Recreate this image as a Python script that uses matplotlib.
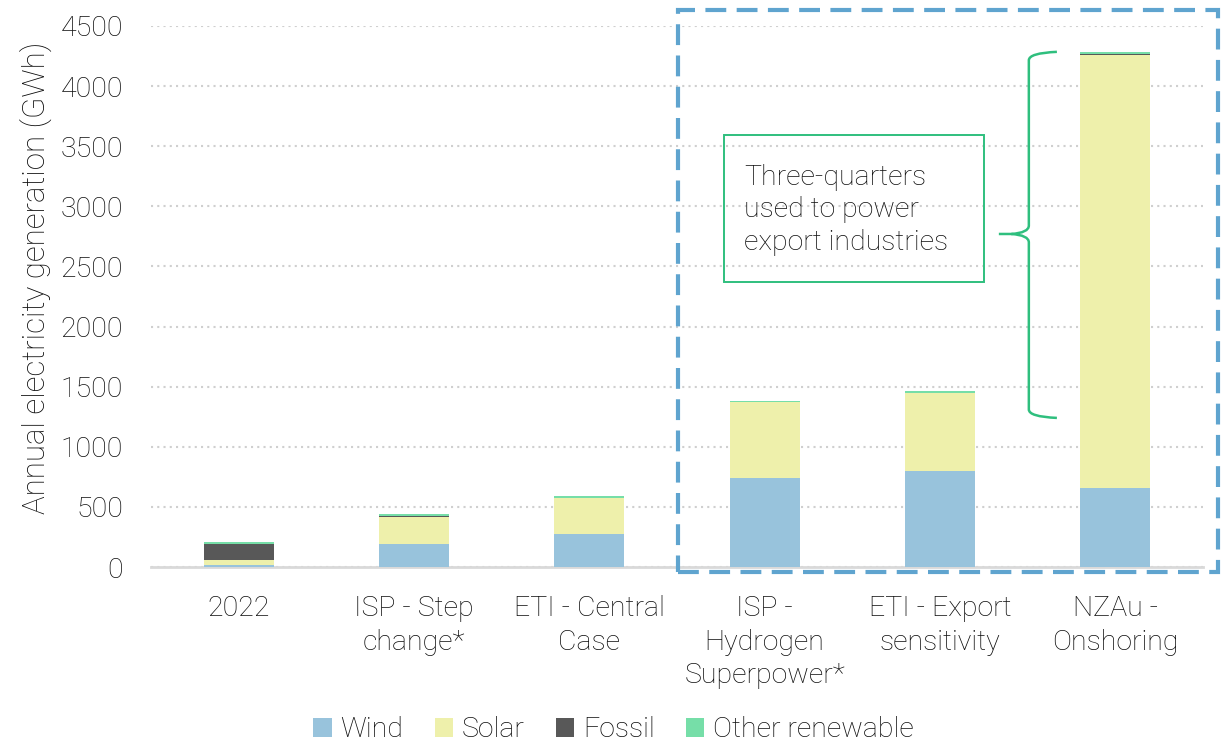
import matplotlib
matplotlib.use("Agg")
import matplotlib.pyplot as plt
from matplotlib.patches import Rectangle, PathPatch
from matplotlib.path import Path
import numpy as np

plt.rcParams['font.family'] = ['Roboto', 'Liberation Sans', 'DejaVu Sans']

scenarios = ["2022", "ISP - Step\nchange*", "ETI - Central\nCase",
             "ISP -\nHydrogen\nSuperpower*", "ETI - Export\nsensitivity",
             "NZAu -\nOnshoring"]
wind = [20, 195, 275, 740, 800, 660]
solar = [40, 225, 300, 630, 648, 3598]
fossil = [135, 5, 0, 0, 0, 10]
other = [15, 15, 15, 12, 20, 12]

series = [("Wind", wind, "#98c3dc"),
          ("Solar", solar, "#eef0ab"),
          ("Fossil", fossil, "#585858"),
          ("Other renewable", other, "#76dea8")]

FS = 20.5
TXT = '#0d0d0d'

fig = plt.figure(figsize=(12.27, 7.51), dpi=100)
ax = fig.add_axes([0.123, 0.245, 0.8574, 0.7204])

x = np.arange(len(scenarios))
bottom = np.zeros(len(scenarios))
for name, vals, col in series:
    vals = np.array(vals, dtype=float)
    ax.bar(x, vals, 0.4, bottom=bottom, color=col, label=name, zorder=3)
    bottom += vals

ax.set_xlim(-0.5, len(scenarios) - 0.5)
ax.set_ylim(0, 4500)
ax.set_yticks(np.arange(0, 4501, 500))
ax.set_xticks(x)
ax.set_xticklabels(scenarios, fontsize=FS, fontweight='light', color=TXT,
                   linespacing=1.32)
for t in ax.get_yticklabels():
    t.set_fontsize(FS)
    t.set_fontweight('light')
    t.set_color(TXT)
ax.tick_params(length=0)
ax.tick_params(axis='y', pad=20)
ax.tick_params(axis='x', pad=20)
ax.grid(axis='y', linestyle=(0, (1, 2)), color='#cfcfcf', linewidth=1.5, zorder=0)
for s in ['top', 'right', 'left']:
    ax.spines[s].set_visible(False)
ax.spines['bottom'].set_color('#d9d9d9')
ax.spines['bottom'].set_linewidth(2)
ax.set_ylabel("Annual electricity generation (GWh)", fontsize=22.5,
              fontweight='light', color=TXT)
ax.yaxis.set_label_coords(-0.094, 0.534)

# dashed outline round the export scenarios
box = Rectangle((2.507, -42), 3.08, 4676, fill=False, edgecolor='#5fa4cf',
                linewidth=3, linestyle=(0, (5, 2.5)), clip_on=False, zorder=5)
ax.add_patch(box)

# annotation box
note = Rectangle((2.77, 2371), 1.48, 1223, fill=False, edgecolor='#2fbf7e',
                 linewidth=1.4, clip_on=False, zorder=6)
ax.add_patch(note)
ax.text(2.885, 2970, "Three-quarters\nused to power\nexport industries",
        fontsize=FS, fontweight='light', color=TXT, va='center',
        ha='left', linespacing=1.25, zorder=7)

# curly brace next to the NZAu bar
xb, xt, xe = 4.507, 4.336, 4.667
ytop, ybot, ymid = 4285, 1240, 2770
rx, ry = 0.05, 70
verts = [(xe, ytop),
         (xb, ytop - 10), (xb, ytop - ry),
         (xb, ymid + ry),
         (xb, ymid + 10), (xb - rx * 2, ymid),
         (xt, ymid),
         (xb - rx * 2, ymid),
         (xb, ymid - 10), (xb, ymid - ry),
         (xb, ybot + ry),
         (xb, ybot + 10), (xe, ybot)]
codes = [Path.MOVETO,
         Path.CURVE3, Path.CURVE3,
         Path.LINETO,
         Path.CURVE3, Path.CURVE3,
         Path.LINETO,
         Path.MOVETO,
         Path.CURVE3, Path.CURVE3,
         Path.LINETO,
         Path.CURVE3, Path.CURVE3]
brace = PathPatch(Path(verts, codes), fill=False, edgecolor='#2fbf7e',
                  linewidth=1.8, clip_on=False, zorder=6)
ax.add_patch(brace)

leg = fig.legend(loc='lower center', bbox_to_anchor=(0.5, -0.024), ncol=4,
                 frameon=False, fontsize=FS, handlelength=0.65, handleheight=0.65,
                 handletextpad=0.3, columnspacing=1.1)
for t in leg.get_texts():
    t.set_fontweight('light')
    t.set_color(TXT)

fig.savefig("out.png", dpi=100)
